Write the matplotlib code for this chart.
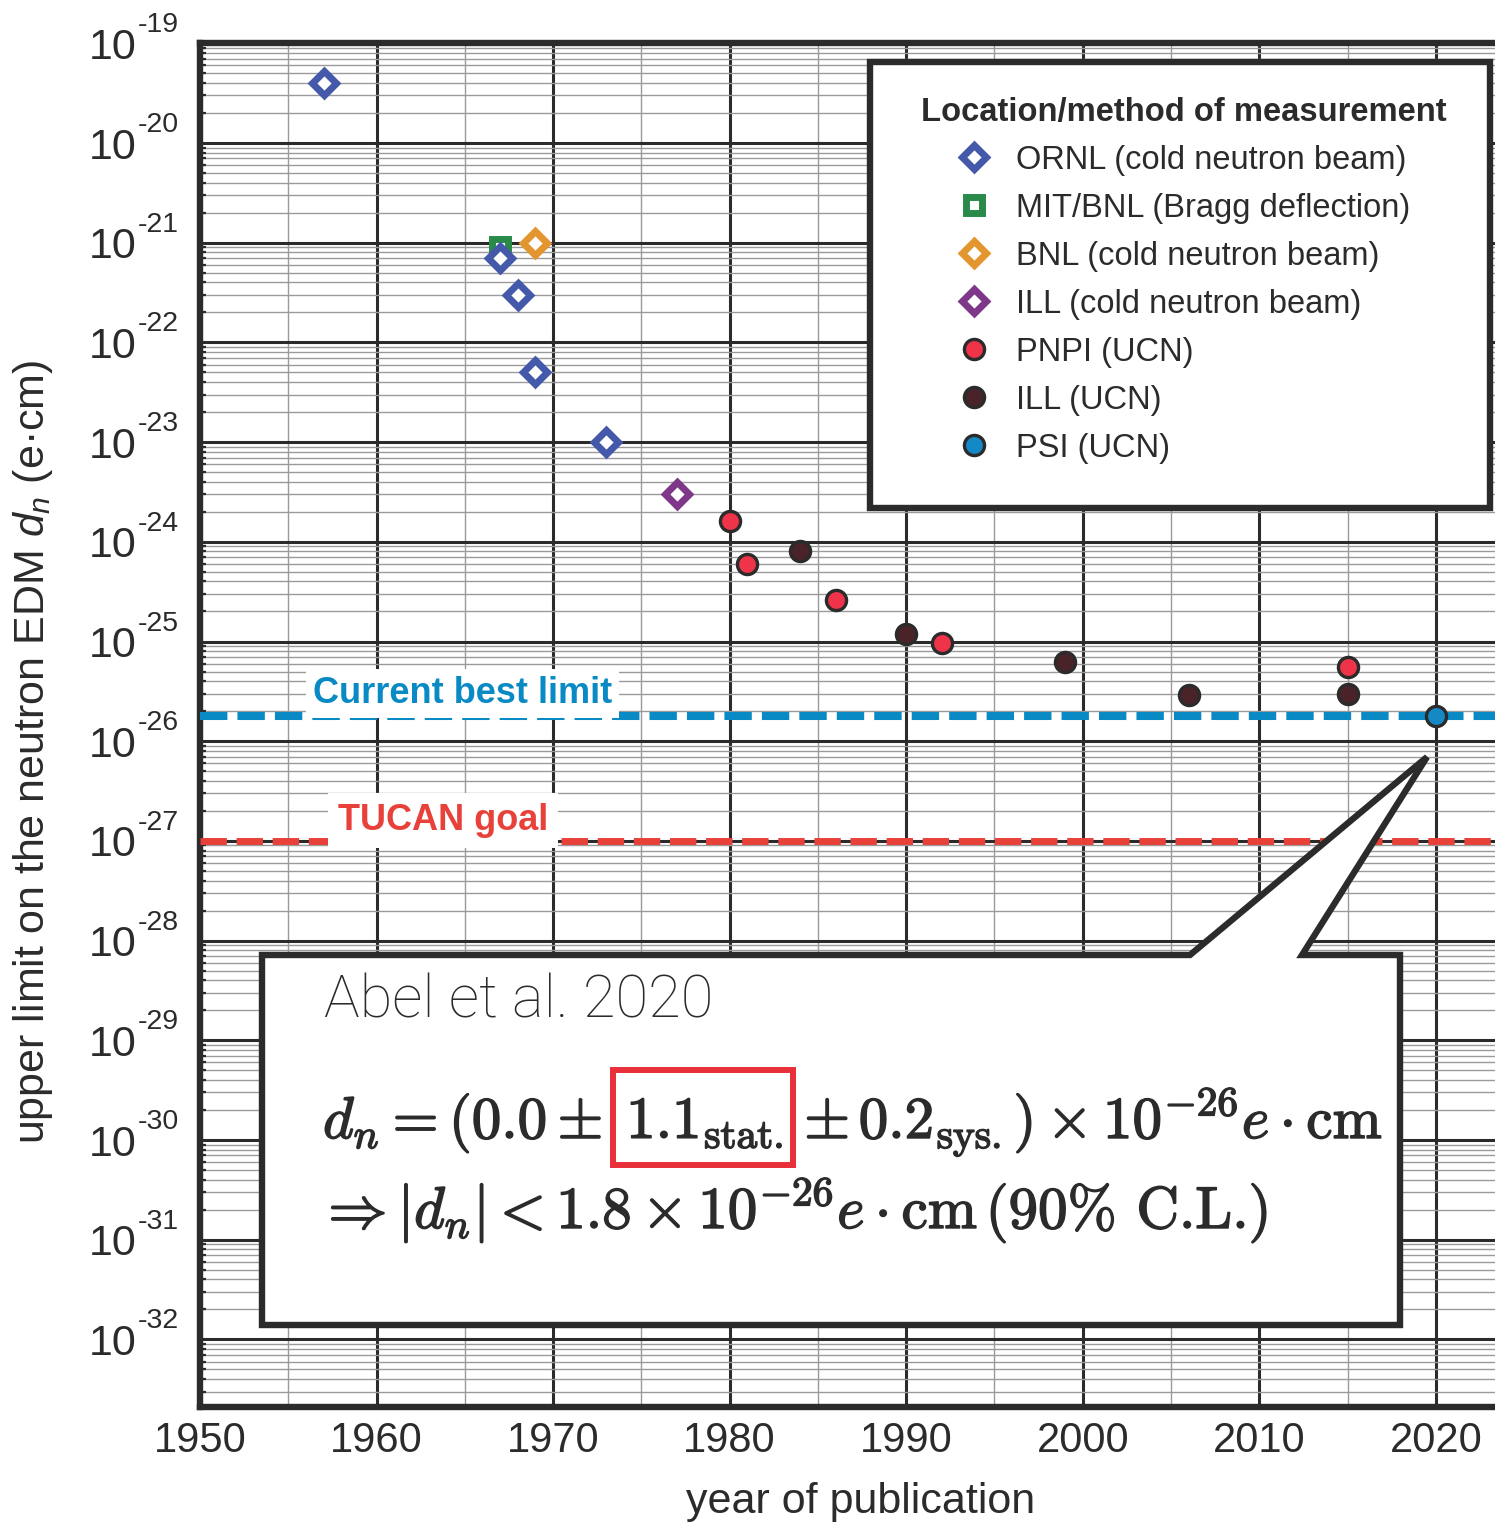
import matplotlib
matplotlib.use("Agg")
import matplotlib.pyplot as plt
import matplotlib.ticker as mticker
import matplotlib.patheffects as pe
from matplotlib.patches import Polygon, Rectangle
import numpy as np

plt.rcParams['font.family'] = ['Liberation Sans', 'DejaVu Sans']
plt.rcParams['mathtext.fontset'] = 'custom'
plt.rcParams['mathtext.rm'] = 'Liberation Sans'
plt.rcParams['mathtext.it'] = 'Liberation Sans:italic'
plt.rcParams['mathtext.bf'] = 'Liberation Sans:bold'

# upper limits on the neutron EDM (e cm) by year of publication
ornl_year = [1957, 1967, 1968, 1969, 1973]
ornl_dn = [4e-20, 7e-22, 3e-22, 5e-23, 1e-23]
mitbnl_year = [1967]
mitbnl_dn = [9e-22]
bnl_year = [1969]
bnl_dn = [1e-21]
ill_beam_year = [1977]
ill_beam_dn = [3e-24]
pnpi_year = [1980, 1981, 1986, 1992, 2015]
pnpi_dn = [1.6e-24, 6e-25, 2.6e-25, 9.7e-26, 5.5e-26]
ill_ucn_year = [1984, 1990, 1999, 2006, 2015]
ill_ucn_dn = [8e-25, 1.2e-25, 6.3e-26, 2.9e-26, 3e-26]
psi_year = [2020]
psi_dn = [1.8e-26]

current_limit = 1.8e-26
tucan_goal = 1e-27
decades = list(range(-19, -33, -1))

INK = '#2b2b2b'
W, H = 1495, 1525


def fx(px):
    return px / W


def fy(py):
    return 1 - py / H


fig = plt.figure(figsize=(W / 100, H / 100), dpi=100)
ax = fig.add_axes([fx(200), fy(1407), 1 - fx(200), (1407 - 43.3) / H])
ax.set_yscale('log')
ax.set_xlim(1950, 2023.35)
ax.set_ylim(10 ** -32.678, 1e-19)

# grid + ticks
ax.xaxis.set_major_locator(mticker.MultipleLocator(10))
ax.xaxis.set_minor_locator(mticker.MultipleLocator(5))
ax.yaxis.set_major_locator(mticker.FixedLocator([10.0 ** e for e in decades]))
ax.yaxis.set_minor_locator(mticker.LogLocator(base=10, subs=np.arange(2, 10), numticks=40))
ax.yaxis.set_minor_formatter(mticker.NullFormatter())
ax.yaxis.set_major_formatter(mticker.FuncFormatter(lambda v, _: '10'))
ax.grid(which='major', color=INK, lw=2.2)
ax.grid(which='minor', color='#9a9a9a', lw=1.0)
ax.set_axisbelow(True)

ax.tick_params(which='both', direction='in', top=True, right=False, colors=INK)
ax.tick_params(axis='y', which='major', labelsize=31, pad=46, length=0)
ax.tick_params(axis='x', which='major', labelsize=30, pad=10, length=0)
ax.tick_params(axis='y', which='minor', length=4.5, width=1.6)
ax.tick_params(axis='x', which='minor', length=2.5, width=1.6)
for s in ['left', 'top', 'bottom']:
    ax.spines[s].set_linewidth(4.6)
    ax.spines[s].set_color(INK)
ax.spines['right'].set_visible(False)

# exponents of the decade labels, written like the original ("10" then a raised "-19")
ytrans = ax.get_yaxis_transform()
for e in decades:
    ax.annotate('-%d' % abs(e), xy=(0, 10.0 ** e), xycoords=ytrans,
                xytext=(-62, 11), textcoords='offset pixels', fontsize=20.5,
                color=INK, ha='left', va='baseline', annotation_clip=False)

# reference lines
ax.axhline(current_limit, color='#0a8ac4', lw=5.8, dashes=(3.4, 1.25), zorder=3)
ax.axhline(tucan_goal, color='#e8413a', lw=5.0, dashes=(3.8, 1.4), zorder=3)
ax.text(1956.4, 10 ** -25.617, 'Current best limit', color='#0a8ac4', fontsize=26,
        fontweight='bold', va='baseline', ha='left', zorder=3.5,
        bbox=dict(fc='white', ec='none', pad=5))
ax.text(1957.8, 10 ** -26.89, 'TUCAN goal', color='#e8413a', fontsize=26,
        fontweight='bold', va='baseline', ha='left', zorder=3.5,
        bbox=dict(fc='white', ec='none', pad=7))

# measurements
diamond = dict(ls='none', marker='D', ms=12, mfc='white', mew=5, zorder=4)
circle = dict(ls='none', marker='o', ms=14.5, mec=INK, mew=2.4, zorder=4)
h1, = ax.plot(mitbnl_year, mitbnl_dn, ls='none', marker='s', ms=11.5, mfc='white',
              mec='#2a8a4a', mew=5, zorder=4, label='MIT/BNL (Bragg deflection)')
h0, = ax.plot(ornl_year, ornl_dn, mec='#4459a9', label='ORNL (cold neutron beam)', **diamond)
h2, = ax.plot(bnl_year, bnl_dn, mec='#e3952f', label='BNL (cold neutron beam)', **diamond)
h3, = ax.plot(ill_beam_year, ill_beam_dn, mec='#7e3789', label='ILL (cold neutron beam)', **diamond)
h4, = ax.plot(pnpi_year, pnpi_dn, mfc='#ef3349', label='PNPI (UCN)', **circle)
h5, = ax.plot(ill_ucn_year, ill_ucn_dn, mfc='#4a2329', label='ILL (UCN)', **circle)
h6, = ax.plot(psi_year, psi_dn, mfc='#1589c6', label='PSI (UCN)', **circle)

# legend box
ax.add_patch(Rectangle((fx(870), fy(508)), fx(1490) - fx(870), (508 - 62) / H,
                       transform=fig.transFigure, fc='white', ec=INK, lw=4.6,
                       clip_on=False, zorder=4.5))
handles = [h0, h1, h2, h3, h4, h5, h6]
leg = ax.legend(handles, [h.get_label() for h in handles],
                title='Location/method of measurement', loc='upper center',
                bbox_to_anchor=(fx(1184), fy(80.5)), bbox_transform=fig.transFigure,
                frameon=False, fontsize=23.5, labelcolor=INK,
                title_fontproperties={'weight': 'bold', 'size': 23.6},
                handlelength=1.0, handletextpad=0.8, labelspacing=0.52, borderpad=0)
leg.get_title().set_color(INK)
leg.set_zorder(5)

ax.set_ylabel('upper limit on the neutron EDM $d_n$ (e·cm)', fontsize=31, color=INK)
ax.yaxis.set_label_coords(-0.112, 0.4806)
ax.set_xlabel('year of publication', fontsize=31, color=INK)
ax.xaxis.set_label_coords(0.5104, -0.055)

# callout
callout = [(262, 955), (1190, 955), (1427, 757), (1302, 955), (1400, 955),
           (1400, 1325), (262, 1325)]
ax.add_patch(Polygon([(fx(x), fy(y)) for x, y in callout], closed=True,
                     transform=fig.transFigure, fc='white', ec=INK, lw=4.6,
                     joinstyle='miter', clip_on=False, zorder=6))

fig.text(fx(324), fy(1018), 'Abel et al. 2020', fontsize=43, color=INK,
         va='baseline', family=['Roboto', 'Liberation Sans'], fontweight='light')

r = fig.canvas.get_renderer()
FS = 42.5
thick = [pe.withStroke(linewidth=1.1, foreground=INK)]
mkw = dict(fontsize=FS, color=INK, va='baseline', ha='left', math_fontfamily='cm',
           family='cmr10', path_effects=thick)
ta = fig.text(fx(323), fy(1138), r'$d_n = (0.0 \pm$', **mkw)
ba = ta.get_window_extent(r)
tb = fig.text((ba.x1 + 24) / W, fy(1138), r'$1.1_{\mathrm{stat.}}$', **mkw)
bb = tb.get_window_extent(r)
tc = fig.text((bb.x1 + 21) / W, fy(1138),
              r'$\pm\,0.2_{\mathrm{sys.}})\times 10^{-26}e\cdot\mathrm{cm}$', **mkw)
fig.add_artist(Rectangle(((bb.x0 - 13) / W, (bb.y0 - 15) / H),
                         (bb.width + 23) / W, (bb.height + 41) / H,
                         transform=fig.transFigure, fill=False, ec='#e8303a', lw=4.3))
fig.text(fx(318), fy(1228),
         r'$\Rightarrow |d_n| < 1.8\times 10^{-26}e\cdot\mathrm{cm}\,$(90% C.L.)', **mkw)

fig.savefig('out.png', dpi=100)
